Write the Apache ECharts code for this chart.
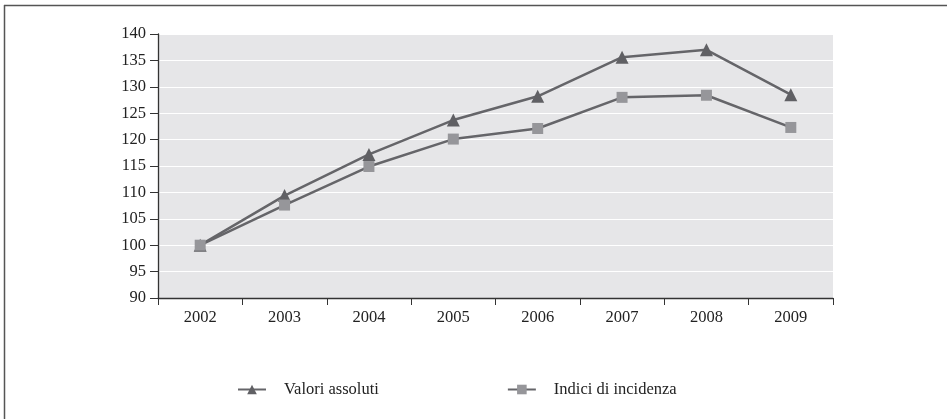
<!DOCTYPE html>
<html>
<head>
<meta charset="utf-8">
<script src="https://cdn.jsdelivr.net/npm/echarts@6/dist/echarts.min.js"></script>
<style>
  html, body { margin: 0; padding: 0; background: #fff; }
  #chart { width: 947px; height: 419px; }
</style>
</head>
<body>
<div id="chart"></div>
<script>
const years = ['2002', '2003', '2004', '2005', '2006', '2007', '2008', '2009'];
const valoriAssoluti = [100, 109.4, 117.2, 123.7, 128.2, 135.6, 137.0, 128.5];
const indiciIncidenza = [100, 107.6, 114.9, 120.1, 122.1, 128.0, 128.4, 122.3];

const font = 'Liberation Serif';
const chart = echarts.init(document.getElementById('chart'));

chart.setOption({
  animation: false,
  textStyle: { fontFamily: font },
  graphic: [
    // frame lines (top and left)
    { type: 'line', shape: { x1: 4, y1: 5.5, x2: 947, y2: 5.5 }, style: { stroke: '#555', lineWidth: 1.5 } },
    { type: 'line', shape: { x1: 4.5, y1: 5, x2: 4.5, y2: 419 }, style: { stroke: '#555', lineWidth: 1.5 } }
  ],
  grid: {
    left: 158, right: 114, top: 34, bottom: 121,
    show: true, backgroundColor: '#e6e6e8', borderWidth: 0
  },
  legend: {
    top: 376,
    left: 232,
    itemGap: 128,
    itemWidth: 28,
    itemHeight: 12,
    textStyle: { fontFamily: font, fontSize: 16.5, color: '#222', padding: [0, 0, 0, 13] },
    data: ['Valori assoluti', 'Indici di incidenza']
  },
  xAxis: {
    type: 'category',
    data: years,
    boundaryGap: true,
    axisLine: { lineStyle: { color: '#333', width: 1.3 } },
    axisTick: { show: true, length: 7, lineStyle: { color: '#333' } },
    axisLabel: { fontFamily: font, fontSize: 16.5, color: '#222', margin: 11 },
    splitLine: { show: false }
  },
  yAxis: {
    type: 'value',
    min: 90, max: 140, interval: 5,
    axisLine: { show: true, lineStyle: { color: '#333', width: 1.3 } },
    axisTick: { show: true, length: 8, lineStyle: { color: '#333' } },
    axisLabel: { fontFamily: font, fontSize: 16.5, color: '#222', margin: 12 },
    splitLine: { show: true, lineStyle: { color: '#ffffff', width: 1.2 } }
  },
  series: [
    {
      name: 'Valori assoluti',
      type: 'line',
      data: valoriAssoluti,
      symbol: 'triangle',
      symbolSize: 13,
      itemStyle: { color: '#606064' },
      lineStyle: { color: '#656569', width: 2.5 }
    },
    {
      name: 'Indici di incidenza',
      type: 'line',
      data: indiciIncidenza,
      symbol: 'rect',
      symbolSize: 11,
      itemStyle: { color: '#96969a' },
      lineStyle: { color: '#656569', width: 2.5 }
    }
  ]
});
</script>
</body>
</html>
